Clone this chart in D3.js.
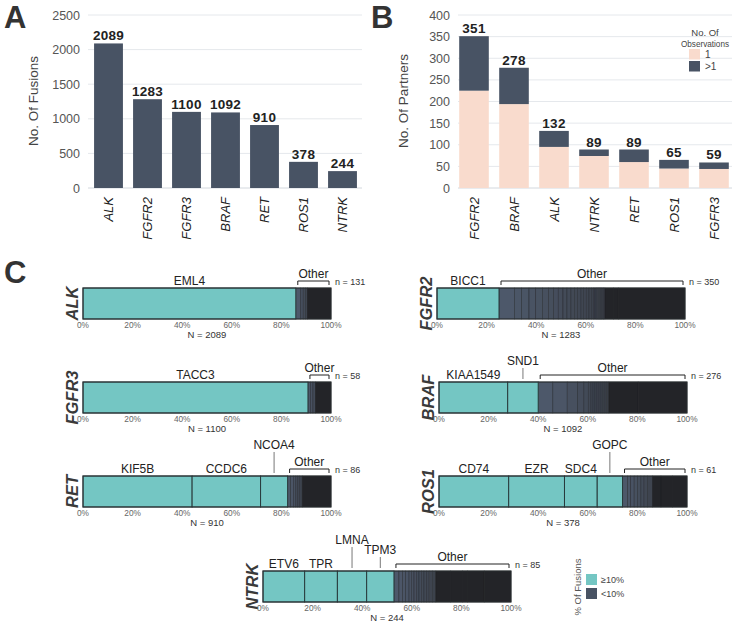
<!DOCTYPE html>
<html><head><meta charset="utf-8">
<script src="https://cdn.jsdelivr.net/npm/d3@7"></script>
<style>
body{margin:0;background:#fff}
svg{display:block}
text{font-family:"Liberation Sans",Arial,Helvetica,sans-serif}
</style>
</head><body>
<svg id="chart" width="736" height="624"></svg>
<script>
// ---------- Panel A data ----------
const genesA = ["ALK","FGFR2","FGFR3","BRAF","RET","ROS1","NTRK"];
const fusionsA = [2089,1283,1100,1092,910,378,244];
const yTicksA = [0,500,1000,1500,2000,2500];

// ---------- Panel B data ----------
const genesB = ["FGFR2","BRAF","ALK","NTRK","RET","ROS1","FGFR3"];
const partnersOnce = [225,194,95,74,60,45,44];
const partnersMulti = [126,84,37,15,29,20,15];
const partnersTotal = [351,278,132,89,89,65,59];
const yTicksB = [0,50,100,150,200,250,300,350,400];
const legendB = ["1",">1"];

// ---------- Panel C data ----------
const cGenes = ["ALK","FGFR2","FGFR3","BRAF","RET","ROS1","NTRK"];
const cTotals = [2089,1283,1100,1092,910,378,244];
const cOtherN = [131,350,58,276,86,61,85];
const cMajorNames = [["EML4"],["BICC1"],["TACC3"],["KIAA1549","SND1"],["KIF5B","CCDC6","NCOA4"],["CD74","EZR","SDC4","GOPC"],["ETV6","TPR","LMNA","TPM3"]];
const cMajorPct = [[85.8],[25.0],[90.7],[27.7,12.3],[44.0,27.6,10.9],[28.1,22.5,13.2,10.2],[16.8,13.2,11.8,11.0]];
const cMajorLevel = [[0],[0],[0],[0,1],[0,0,2],[0,0,0,2],[0,0,2,1]];
const cOtherPct = [
  [2.0,1.0,0.9,0.8,9.5],
  [6.2,2.9,3.0,2.7,2.7,2.4,2.1,1.9,1.9,1.6,1.6,1.4,1.3,1.4,1.0,1.1,1.1,1.1,0.8,0.5,0.5,0.4,0.5,0.4,0.5,0.4,0.5,0.3,0.5,3.4,2.0,26.9],
  [1.1,0.9,1.1,6.2],
  [5.9,5.8,4.2,2.5,1.8,1.1,0.8,0.8,0.8,0.8,0.8,0.8,0.8,0.8,0.8,11.8,19.7],
  [1.2,1.1,1.0,0.8,0.8,1.0,11.6],
  [2.0,1.3,1.4,1.3,1.4,1.3,1.4,2.0,3.4,4.7,5.8],
  [2.0,1.4,1.3,1.4,0.9,1.1,1.1,0.9,1.0,1.0,1.1,1.0,1.3,1.4,6.0,4.8,2.0,6.7,10.8]
];
const cDarkFrom = [90.5,67.7,93.8,68.5,88.4,86.1,69.7];
const pctTicks = [0,20,40,60,80,100];
const legendC = ["\u226510%","<10%"];

// ---------- styles ----------
const SLATE = "#485364", PEACH = "#f9dbcd", CYAN = "#74c6c3";
const OTH_LIGHT = "#4d586a", OTH_MID = "#3a3f48", OTH_DARK = "#232428";
const GRID = "#e5e8ec";

const svg = d3.select("#chart");

function panelLetter(t, x, y){
  svg.append("text").attr("x",x).attr("y",y).text(t)
    .attr("font-size",31).attr("font-weight","bold").attr("fill","#333");
}

// ================= Panel A =================
panelLetter("A", 4, 28);
const xA = d3.scaleBand().domain(genesA).range([89,362]).paddingInner(0.26).paddingOuter(0.13);
const yA = d3.scaleLinear().domain([0,2500]).range([188,15]);
const gA = svg.append("g");
gA.selectAll("line.grid").data(yTicksA).join("line")
  .attr("x1",88).attr("x2",362).attr("y1",d=>yA(d)).attr("y2",d=>yA(d))
  .attr("stroke",d=>d===0?"#d3d8de":GRID).attr("stroke-width",1);
const axA = gA.append("g").attr("transform","translate(88,0)")
  .call(d3.axisLeft(yA).tickValues(yTicksA).tickSize(0).tickPadding(8).tickFormat(d3.format("d")));
axA.select(".domain").remove();
axA.selectAll("text").attr("font-size",12.5).attr("fill","#555").attr("font-family","Liberation Sans, Arial, sans-serif");
gA.append("text").attr("transform","translate(38,101) rotate(-90)").attr("text-anchor","middle")
  .attr("font-size",13.5).attr("fill","#444").text("No. Of Fusions");
gA.selectAll("rect.bar").data(genesA).join("rect")
  .attr("x",d=>xA(d)).attr("width",xA.bandwidth())
  .attr("y",(d,i)=>yA(fusionsA[i])).attr("height",(d,i)=>yA(0)-yA(fusionsA[i]))
  .attr("fill",SLATE);
gA.selectAll("text.val").data(genesA).join("text")
  .attr("x",d=>xA(d)+xA.bandwidth()/2).attr("y",(d,i)=>yA(fusionsA[i])-3)
  .attr("text-anchor","middle").attr("font-size",13.5).attr("font-weight","bold")
  .attr("fill","#222").attr("letter-spacing",0.3).text((d,i)=>fusionsA[i]);
gA.selectAll("text.xl").data(genesA).join("text")
  .attr("transform",d=>`translate(${xA(d)+xA.bandwidth()/2},197) rotate(-90)`)
  .attr("dy","0.35em").attr("text-anchor","end").attr("font-size",13)
  .attr("font-style","italic").attr("fill","#222").text(d=>d);

// ================= Panel B =================
panelLetter("B", 371, 28);
const xB = d3.scaleBand().domain(genesB).range([454,734]).paddingInner(0.26).paddingOuter(0.13);
const yB = d3.scaleLinear().domain([0,400]).range([188,15]);
const gB = svg.append("g");
gB.selectAll("line.grid").data(yTicksB).join("line")
  .attr("x1",458).attr("x2",732).attr("y1",d=>yB(d)).attr("y2",d=>yB(d))
  .attr("stroke",d=>d===0?"#d3d8de":GRID).attr("stroke-width",1);
const axB = gB.append("g").attr("transform","translate(458,0)")
  .call(d3.axisLeft(yB).tickValues(yTicksB).tickSize(0).tickPadding(8).tickFormat(d3.format("d")));
axB.select(".domain").remove();
axB.selectAll("text").attr("font-size",12.5).attr("fill","#555").attr("font-family","Liberation Sans, Arial, sans-serif");
gB.append("text").attr("transform","translate(408,101) rotate(-90)").attr("text-anchor","middle")
  .attr("font-size",13.5).attr("fill","#444").text("No. Of Partners");
gB.selectAll("rect.once").data(genesB).join("rect")
  .attr("x",d=>xB(d)).attr("width",xB.bandwidth())
  .attr("y",(d,i)=>yB(partnersOnce[i])).attr("height",(d,i)=>yB(0)-yB(partnersOnce[i]))
  .attr("fill",PEACH);
gB.selectAll("rect.multi").data(genesB).join("rect")
  .attr("x",d=>xB(d)).attr("width",xB.bandwidth())
  .attr("y",(d,i)=>yB(partnersOnce[i]+partnersMulti[i])).attr("height",(d,i)=>yB(0)-yB(partnersMulti[i]))
  .attr("fill",SLATE);
gB.selectAll("text.val").data(genesB).join("text")
  .attr("x",d=>xB(d)+xB.bandwidth()/2).attr("y",(d,i)=>yB(partnersTotal[i])-3)
  .attr("text-anchor","middle").attr("font-size",13.5).attr("font-weight","bold")
  .attr("fill","#222").attr("letter-spacing",0.3).text((d,i)=>partnersTotal[i]);
gB.selectAll("text.xl").data(genesB).join("text")
  .attr("transform",d=>`translate(${xB(d)+xB.bandwidth()/2},197) rotate(-90)`)
  .attr("dy","0.35em").attr("text-anchor","end").attr("font-size",13)
  .attr("font-style","italic").attr("fill","#222").text(d=>d);
// legend B
const lgB = gB.append("g");
lgB.append("text").attr("x",705).attr("y",36).attr("text-anchor","middle").attr("font-size",9.5).attr("fill","#444").text("No. Of");
lgB.append("text").attr("x",705).attr("y",46.5).attr("text-anchor","middle").attr("font-size",9.5)
  .attr("textLength",48).attr("lengthAdjust","spacingAndGlyphs").attr("fill","#444").text("Observations");
lgB.selectAll("rect").data(legendB).join("rect")
  .attr("x",689).attr("y",(d,i)=>49+i*12).attr("width",11).attr("height",10.5)
  .attr("fill",(d,i)=>i===0?PEACH:SLATE);
lgB.selectAll("text.l").data(legendB).join("text")
  .attr("x",705).attr("y",(d,i)=>54+i*12).attr("dy","0.35em").attr("font-size",10).attr("fill","#444").text(d=>d);

// ================= Panel C =================
panelLetter("C", 4, 283);
const rowPos = [[83,288],[437,288],[83,382],[439,382],[83,476],[439,476],[263,571]];
const BW = 248, BH = 31;
const gC = svg.append("g");
const shade = d3.interpolateRgb(OTH_LIGHT, OTH_MID);

cGenes.forEach((gene, gi) => {
  const [x0, y0] = rowPos[gi];
  const x = d3.scaleLinear().domain([0,100]).range([x0, x0+BW]);
  const g = gC.append("g");
  g.append("text").attr("transform",`translate(${x0-11},${y0+BH/2}) rotate(-90)`)
    .attr("text-anchor","middle").attr("dy","0.35em").attr("font-size",16.5)
    .attr("font-weight","bold").attr("font-style","italic").attr("fill","#3a3a3a").text(gene);
  let cum = 0;
  const majors = cMajorPct[gi].map((v,j)=>{const s={name:cMajorNames[gi][j],start:cum,end:cum+v,level:cMajorLevel[gi][j]};cum+=v;return s;});
  const otherStart = cum;
  const others = cOtherPct[gi].map(v=>{const s={start:cum,end:Math.min(100,cum+v)};cum+=v;return s;});
  const dark = cDarkFrom[gi];
  g.selectAll("rect.oth").data(others).join("rect")
    .attr("x",d=>x(d.start)).attr("width",d=>Math.max(0,x(d.end)-x(d.start)))
    .attr("y",y0).attr("height",BH)
    .attr("fill",d=> d.start >= dark-0.05 ? OTH_DARK : shade(Math.pow((d.start-otherStart)/(dark-otherStart),1.3)))
    .attr("stroke",d=> d.start >= dark-0.05 ? "#1c1d20" : "#2c3038").attr("stroke-width",0.6);
  g.selectAll("rect.maj").data(majors).join("rect")
    .attr("x",d=>x(d.start)).attr("width",d=>x(d.end)-x(d.start))
    .attr("y",y0).attr("height",BH).attr("fill",CYAN)
    .attr("stroke","#27393b").attr("stroke-width",1);
  g.append("rect").attr("x",x0).attr("y",y0).attr("width",BW).attr("height",BH)
    .attr("fill","none").attr("stroke","#2a3133").attr("stroke-width",1);
  const lvlOff = [3,17,27];
  majors.forEach(m=>{
    const cx = x((m.start+m.end)/2);
    g.append("text").attr("x",cx).attr("y",y0-lvlOff[m.level]).attr("text-anchor","middle")
      .attr("font-size",12).attr("fill","#222").text(m.name);
    if(m.level>0){
      g.append("line").attr("x1",cx).attr("x2",cx).attr("y1",y0-lvlOff[m.level]+3).attr("y2",y0-3)
        .attr("stroke","#555").attr("stroke-width",0.8);
    }
  });
  const bx1 = x(otherStart)+2, bx2 = x(100)-2;
  g.append("path").attr("d",`M${bx1},${y0-3}V${y0-7}H${bx2}V${y0-3}`)
    .attr("fill","none").attr("stroke","#222").attr("stroke-width",1);
  g.append("text").attr("x",(bx1+bx2)/2).attr("y",y0-10).attr("text-anchor","middle")
    .attr("font-size",12).attr("fill","#222").text("Other");
  g.append("text").attr("x",x(100)+4).attr("y",y0-3).attr("font-size",9).attr("fill","#333")
    .text("n = "+cOtherN[gi]);
  g.selectAll("text.tk").data(pctTicks).join("text")
    .attr("x",d=>x(d)).attr("y",y0+BH+6).attr("dy","0.35em").attr("text-anchor","middle")
    .attr("font-size",8.3).attr("fill","#666").text(d=>d+"%");
  g.append("text").attr("x",x(50)).attr("y",y0+BH+15.5).attr("dy","0.35em").attr("text-anchor","middle")
    .attr("font-size",9.5).attr("fill","#333").text("N = "+cTotals[gi]);
});

// legend C
const lgC = gC.append("g");
lgC.append("text").attr("transform","translate(578,587) rotate(-90)").attr("text-anchor","middle")
  .attr("dy","0.35em").attr("font-size",9.5).attr("fill","#555").text("% Of Fusions");
lgC.selectAll("rect").data(legendC).join("rect")
  .attr("x",586).attr("y",(d,i)=>574+i*14).attr("width",11).attr("height",11)
  .attr("fill",(d,i)=>i===0?CYAN:SLATE);
lgC.selectAll("text.l").data(legendC).join("text")
  .attr("x",601).attr("y",(d,i)=>579.5+i*14).attr("dy","0.35em").attr("font-size",9).attr("fill","#444").text(d=>d);
</script>
</body></html>
